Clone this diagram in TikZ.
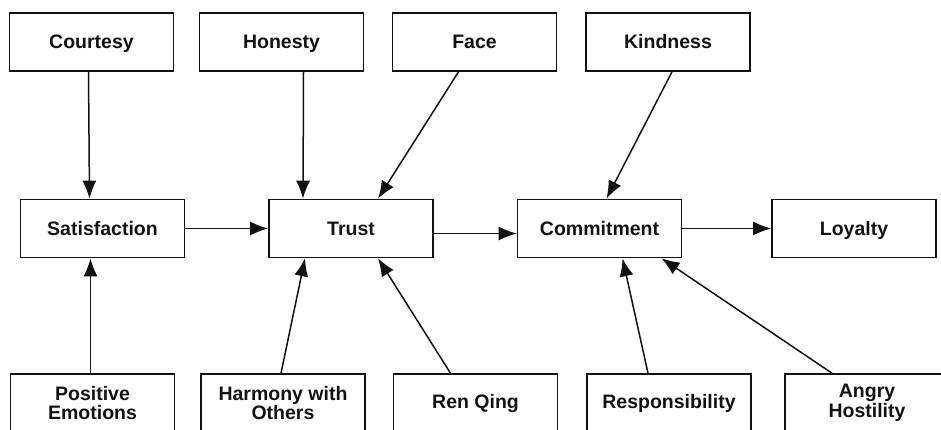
\documentclass[tikz,border=0pt]{standalone}
\usepackage{fontspec}
\setmainfont{Liberation Sans}
\usepackage{tikz}
\usetikzlibrary{arrows.meta}
\definecolor{ScanInk}{RGB}{18,18,18}

\begin{document}
\begin{tikzpicture}[x=1pt,y=-1pt,>={Latex[length=18pt,width=14pt]},
    factor/.style={draw=ScanInk,line width=1.6pt,minimum width=164pt,
      minimum height=58pt,inner sep=1pt,align=center,text=ScanInk,
      font=\fontsize{19.5}{19.5}\selectfont\bfseries},
    oneline/.style={text height=14pt,text depth=1pt},
    link/.style={->,ScanInk,line width=1.5pt}]
  \useasboundingbox (0,0) rectangle (941,430);
  \clip (0,0) rectangle (941,430);
  % antecedents (top row)
  \foreach \nm/\x/\txt in {court/91.5/Courtesy,hon/281.5/Honesty,
      face/474.5/Face,kind/668/Kindness}{
    \node[factor,oneline] (\nm) at (\x,42) {\txt};
  }
  % main chain
  \foreach \nm/\x/\txt in {sat/102.5/Satisfaction,trust/351/Trust,
      commit/599.5/Commitment,loyal/854/Loyalty}{
    \node[factor,oneline] (\nm) at (\x,228.5) {\txt};
  }
  % antecedents (bottom row)
  \foreach \nm/\x/\txt in {pos/92.5/{Positive\\Emotions},
      harm/283/{Harmony with\\Others},ren/475.5/Ren Qing,
      resp/669/Responsibility,angry/867/{Angry\\Hostility}}{
    \node[factor] (\nm) at (\x,403) {\txt};
  }
  \draw[link] ([xshift=-3pt]court.south) -- ([xshift=-13pt]sat.north);
  \draw[link] ([xshift=22pt]hon.south) -- ([xshift=-48pt]trust.north);
  \draw[link] ([xshift=-16pt]face.south) -- ([xshift=27pt]trust.north);
  \draw[link] ([xshift=4pt]kind.south) -- ([xshift=7pt]commit.north);
  \draw[link] (sat.east) -- (trust.west);
  \draw[link] ([yshift=-5pt]trust.east) -- ([yshift=-5pt]commit.west);
  \draw[link] (commit.east) -- (loyal.west);
  \draw[link] ([xshift=-2pt]pos.north) -- ([xshift=-12pt]sat.south);
  \draw[link] ([xshift=-2pt]harm.north) -- ([xshift=-46pt]trust.south);
  \draw[link] ([xshift=-25pt]ren.north) -- ([xshift=27pt]trust.south);
  \draw[link] ([xshift=-21pt]resp.north) -- ([xshift=23pt]commit.south);
  \draw[link] ([xshift=-35pt]angry.north) -- ([xshift=62pt]commit.south);
\end{tikzpicture}
\end{document}
